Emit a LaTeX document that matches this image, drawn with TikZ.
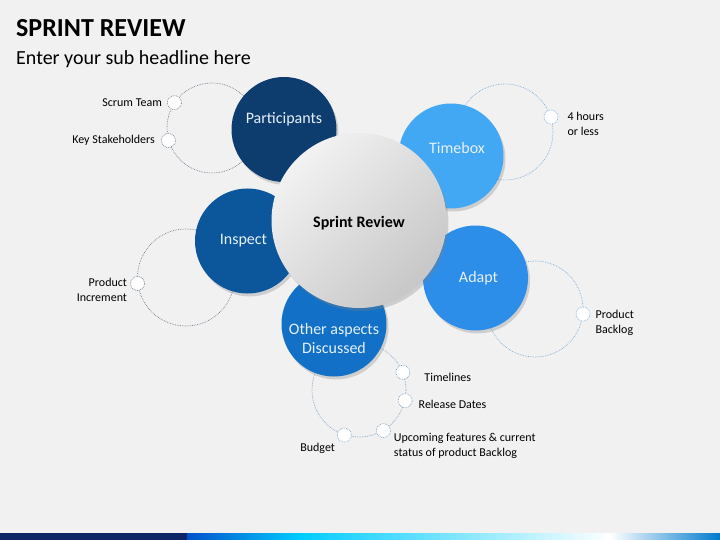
\documentclass[tikz,border=0pt]{standalone}
\usepackage{fontspec}
\setmainfont{Carlito}
\usetikzlibrary{positioning,shadows}
\definecolor{bggray}{HTML}{F1F1F1}
\definecolor{cpart}{HTML}{0D3D6F}
\definecolor{cinsp}{HTML}{0C579C}
\definecolor{cother}{HTML}{1271C6}
\definecolor{cadapt}{HTML}{2C8EE8}
\definecolor{ctime}{HTML}{43A8F4}
\definecolor{orbgray}{HTML}{6F7E8E}
\definecolor{orbblue}{HTML}{7FAEDA}
\definecolor{txtlight}{HTML}{E6F0FA}
\definecolor{barnavy}{HTML}{0B2566}

\begin{document}
\begin{tikzpicture}
  [x=1pt, y=-1pt,
   petal/.style={circle, fill=#1, minimum size=105pt, inner sep=0pt,
     drop shadow={opacity=0.3, shadow xshift=2pt, shadow yshift=-3pt}},
   orbit/.style={circle, draw=#1, densely dotted, line width=0.7pt, minimum size=96pt, inner sep=0pt},
   knob/.style={circle, draw=#1, densely dotted, fill=white, line width=0.7pt, minimum size=14pt, inner sep=0pt},
   ptext/.style={text=txtlight, font=\fontsize{16}{19}\selectfont, align=center},
   note/.style={font=\fontsize{12}{15}\selectfont, inner sep=0pt}]
  \useasboundingbox (0,0) rectangle (720,540);
  \fill[bggray] (0,0) rectangle (720,540);
  % bar at the bottom
  \fill[barnavy] (0,533) rectangle (187,540);
  \shade[left color=blue!60!cyan!80!black, right color=cyan!80!blue] (187,533) rectangle (300,540);
  \shade[left color=cyan!80!blue, right color=white] (300,533) rectangle (610,540);
  \shade[left color=white, right color=cyan!60!blue!80!black] (610,533) rectangle (720,540);

  \node[anchor=base west, inner sep=0pt, font=\bfseries\fontsize{26}{30}\selectfont] (title) at (16,37) {SPRINT REVIEW};
  \node[anchor=base west, inner sep=0pt, font=\fontsize{20}{24}\selectfont] (subtitle) at (16,65) {Enter your sub headline here};

  % dotted orbits behind the petals
  \node[orbit=orbgray, minimum size=90pt] (porb) at (212,128) {};
  \node[orbit=orbblue] (torb) at (505,132) {};
  \node[orbit=orbblue] (aorb) at (535,309) {};
  \node[orbit=orbgray, minimum size=97pt] (iorb) at (186,277.5) {};
  \node[orbit=orbblue!70!orbgray, minimum size=94pt] (oorb) at (359,390) {};

  \node[knob=orbgray] (scrum) at (porb.146) {};
  \node[knob=orbgray] (stake) at (porb.196) {};
  \node[knob=orbblue] (hours) at (torb.18) {};
  \node[knob=orbblue] (backlog) at (aorb.354) {};
  \node[knob=orbgray] (incr) at (iorb.187) {};
  \node[knob=orbblue!70!orbgray] (tline) at (oorb.22) {};
  \node[knob=orbblue!70!orbgray] (rdate) at (oorb.347) {};
  \node[knob=orbblue!70!orbgray] (upcom) at (oorb.301) {};
  \node[knob=orbblue!70!orbgray] (budg) at (oorb.252) {};

  \node[note, left=5pt of scrum] (scrumtxt) {Scrum Team};
  \node[note, left=6pt of stake] (staketxt) {Key Stakeholders};
  \node[note, right=9pt of hours, yshift=-7pt, align=left] (hourstxt) {4 hours\\or less};
  \node[note, right=5pt of backlog, yshift=-9pt, align=left] (backlogtxt) {Product\\Backlog};
  \node[note, left=3pt of incr, yshift=-6pt, align=right] (incrtxt) {Product\\Increment};
  \node[note, right=14pt of tline, yshift=-5pt] (tlinetxt) {Timelines};
  \node[note, right=6pt of rdate, yshift=-4pt] (rdatetxt) {Release Dates};
  \node[note, right=3pt of upcom, yshift=-15pt, align=left] (upcomtxt) {Upcoming features \& current\\status of product Backlog};
  \node[note, below left=3pt and 4pt of budg] (budgtxt) {Budget};

  % petals
  \node[petal=cpart] (part) at (284,129.5) {};
  \node[petal=ctime] (tbox) at (451,156) {};
  \node[petal=cinsp] (insp) at (247.5,241) {};
  \node[petal=cadapt] (adapt) at (475.5,278) {};
  \node[petal=cother] (other) at (334,324) {};
  \node[ptext] (parttxt) at ([yshift=10pt]part.center) {Participants};
  \node[ptext] (tboxtxt) at ([xshift=6pt,yshift=8pt]tbox.center) {Timebox};
  \node[ptext] (insptxt) at ([xshift=-4pt]insp.center) {Inspect};
  \node[ptext] (adapttxt) at ([xshift=3pt]adapt.center) {Adapt};
  \node[ptext] (othertxt) at ([yshift=-15pt]other.center) {Other aspects\\Discussed};

  % centre
  \node[circle, minimum size=175pt, inner sep=0pt, top color=black!5, bottom color=black!22,
    shading angle=45, drop shadow={opacity=0.3, shadow xshift=2pt, shadow yshift=-3pt}] (sprint) at (359,220.5) {};
  \node[font=\bfseries\fontsize{16}{19}\selectfont] (sprinttxt) at ([yshift=-3pt]sprint.center) {Sprint Review};
\end{tikzpicture}
\end{document}
